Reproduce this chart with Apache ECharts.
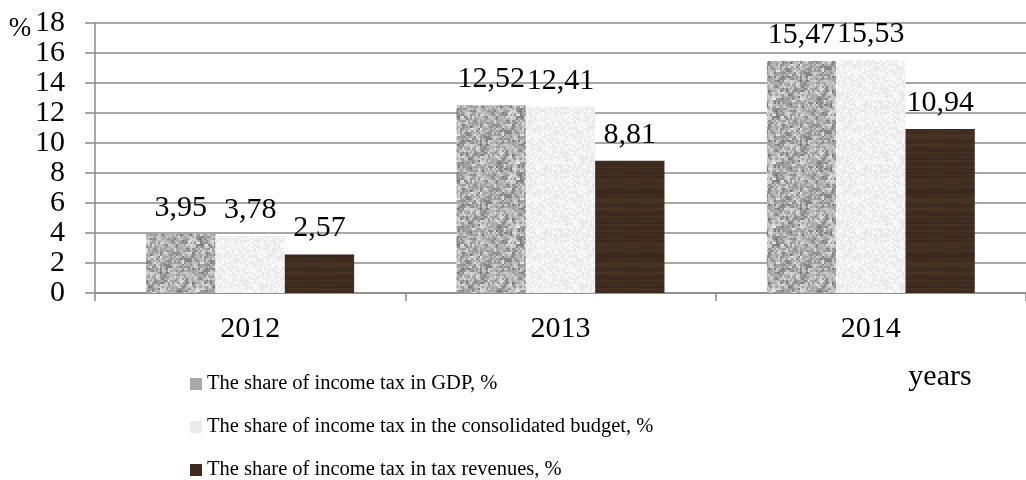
<!DOCTYPE html>
<html><head><meta charset="utf-8">
<script src="https://cdn.jsdelivr.net/npm/echarts@6/dist/echarts.min.js"></script>
<style>html,body{margin:0;padding:0;background:#fff}#c{width:1026px;height:480px}</style>
</head><body><div id="c"></div>
<script>
var categories = ['2012', '2013', '2014'];
var gdpShare = [3.95, 12.52, 15.47];
var budgetShare = [3.78, 12.41, 15.53];
var revenueShare = [2.57, 8.81, 10.94];
var seriesNames = ['The share of income tax in GDP, %', 'The share of income tax in the consolidated budget, %', 'The share of income tax in tax revenues, %'];
var yTicks = [0, 2, 4, 6, 8, 10, 12, 14, 16, 18];

function hash(x, y, s) {
  var h = Math.sin(x * 12.9898 + y * 78.233 + s * 37.719) * 43758.5453;
  return h - Math.floor(h);
}
function makePattern(kind) {
  var c = document.createElement('canvas');
  c.width = 64; c.height = 64;
  var ctx = c.getContext('2d');
  var img = ctx.createImageData(64, 64);
  for (var y = 0; y < 64; y++) {
    for (var x = 0; x < 64; x++) {
      var r, g, b, i = (y * 64 + x) * 4;
      if (kind === 'granite') {
        var n = (hash(x >> 1, y >> 1, 1) * 0.6 + hash(x >> 2, y >> 2, 2) * 0.4);
        var v = 115 + n * 120;
        r = g = b = v;
      } else if (kind === 'light') {
        var n2 = hash(x >> 1, y >> 1, 3);
        var v2 = 230 + n2 * 22;
        r = g = b = Math.min(255, v2);
      } else {
        var stripe = hash(0, y >> 1, 5);
        var fine = hash(x >> 4, y, 6) * 0.25;
        var t = stripe * 0.5 + fine;
        r = 55 + t * 26; g = 39 + t * 19; b = 27 + t * 14;
      }
      img.data[i] = r; img.data[i + 1] = g; img.data[i + 2] = b; img.data[i + 3] = 255;
    }
  }
  ctx.putImageData(img, 0, 0);
  return c;
}
var patGranite = makePattern('granite');
var patLight = makePattern('light');
var patWood = makePattern('wood');

var font = 'Liberation Serif';
function fmt(p) { return String(p.value).replace('.', ','); }
function barSeries(name, data, pattern) {
  return {
    name: name, type: 'bar', data: data, barGap: '0%', barCategoryGap: '33%',
    itemStyle: { color: { image: pattern, repeat: 'repeat' } },
    label: { show: true, position: 'top', distance: 11, formatter: fmt, color: '#000', fontFamily: font, fontSize: 30 },
    emphasis: { disabled: true }
  };
}
var chart = echarts.init(document.getElementById('c'), null, { renderer: 'canvas' });
chart.setOption({
  animation: false,
  backgroundColor: '#fff',
  grid: { left: 95, right: -5, top: 23, bottom: 187 },
  legend: {
    orient: 'vertical', left: 190, top: 373, height: 300, padding: 0,
    itemWidth: 12, itemHeight: 12, itemGap: 21,
    icon: 'rect',
    textStyle: { fontFamily: font, fontSize: 20.5, color: '#000', lineHeight: 22 },
    data: [
      { name: seriesNames[0], itemStyle: { color: '#a9a9a9' } },
      { name: seriesNames[1], itemStyle: { color: '#ebebeb' } },
      { name: seriesNames[2], itemStyle: { color: '#3f2c1e' } }
    ]
  },
  xAxis: {
    type: 'category', data: categories,
    axisLine: { lineStyle: { color: '#8a8a8a', width: 1.5 } },
    axisTick: { show: true, length: 8, lineStyle: { color: '#8a8a8a', width: 1.5 } },
    axisLabel: { fontFamily: font, fontSize: 30, color: '#000', margin: 21 }
  },
  yAxis: {
    type: 'value', min: 0, max: 18, interval: 2,
    axisLine: { show: true, lineStyle: { color: '#8a8a8a', width: 1.5 } },
    axisTick: { show: true, length: 10, lineStyle: { color: '#8a8a8a', width: 1.5 } },
    splitLine: { lineStyle: { color: '#8a8a8a', width: 1.5 } },
    axisLabel: { fontFamily: font, fontSize: 30, color: '#000', margin: 30, customValues: yTicks }
  },
  graphic: [
    { type: 'text', x: 20, y: 29, style: { text: '%', fontFamily: font, fontSize: 27, fill: '#000', align: 'center', verticalAlign: 'middle' } },
    { type: 'text', x: 940, y: 377, style: { text: 'years', fontFamily: font, fontSize: 30, fill: '#000', align: 'center', verticalAlign: 'middle' } }
  ],
  series: [
    barSeries(seriesNames[0], gdpShare, patGranite),
    barSeries(seriesNames[1], budgetShare, patLight),
    barSeries(seriesNames[2], revenueShare, patWood)
  ]
});
</script></body></html>
